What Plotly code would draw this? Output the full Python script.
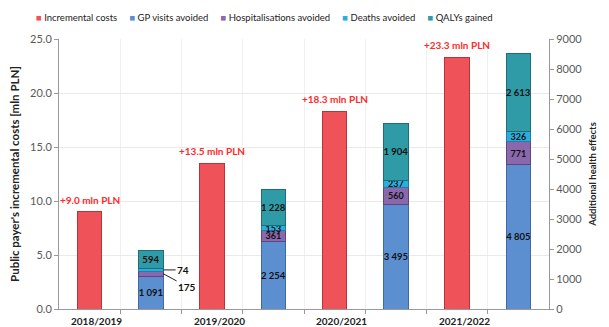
import plotly.graph_objects as go

years = ["2018/2019", "2019/2020", "2020/2021", "2021/2022"]
incremental_costs = [9.0, 13.5, 18.3, 23.3]
gp_visits = [1091, 2254, 3495, 4805]
hospitalisations = [175, 361, 560, 771]
deaths = [74, 153, 237, 326]
qalys = [594, 1228, 1904, 2613]
cost_labels = ["+9.0 mln PLN", "+13.5 mln PLN", "+18.3 mln PLN", "+23.3 mln PLN"]
left_ticks = [0, 5, 10, 15, 20, 25]
right_ticks = list(range(0, 9001, 1000))

FONT = "Lato"
red_x = [2 * i for i in range(len(years))]
stk_x = [2 * i + 1 for i in range(len(years))]


def fmt(v):
    return f"{v:,}".replace(",", " ")


fig = go.Figure()
fig.add_trace(go.Bar(
    x=red_x, y=incremental_costs, name="Incremental costs", width=0.4,
    marker=dict(color="#F0525A", line=dict(color="#B8333A", width=1)),
    yaxis="y", hoverinfo="skip"))

series = [
    ("GP visits avoided", gp_visits, "#5C8FD0", "#3D6BA8", [True, True, True, True], 9.5),
    ("Hospitalisations avoided", hospitalisations, "#8A68AC", "#5E4580", [False, True, True, True], 9),
    ("Deaths avoided", deaths, "#2BAEDD", "#1C7FA6", [False, True, True, True], 9),
    ("QALYs gained", qalys, "#2F9BA6", "#1F6E77", [True, True, True, True], 9.5),
]
for name, vals, col, edge, show, fsize in series:
    txt = [fmt(v) if s else "" for v, s in zip(vals, show)]
    fig.add_trace(go.Bar(
        x=stk_x, y=vals, name=name, width=0.4, yaxis="y2",
        marker=dict(color=col, line=dict(color=edge, width=1)),
        text=txt, textposition="inside", insidetextanchor="middle",
        textangle=0, constraintext="none",
        textfont=dict(family=FONT, size=fsize, color="#111111", weight="bold"),
        hoverinfo="skip"))

annotations = []
for xi, v, lab in zip(red_x, incremental_costs, cost_labels):
    annotations.append(dict(x=xi, y=v, xref="x", yref="y", text=lab, showarrow=False,
                            yanchor="bottom", yshift=4,
                            font=dict(family=FONT, size=10, color="#FF2A2A", weight="bold")))
for xi, lab in zip(red_x, years):
    annotations.append(dict(x=xi + 0.12, y=0, xref="x", yref="paper", text=lab, showarrow=False,
                            yanchor="top", yshift=-4,
                            font=dict(family=FONT, size=10, color="#222222", weight="bold")))
# outside labels for small segments of the first stack
annotations.append(dict(x=1.2, y=gp_visits[0] + hospitalisations[0] + deaths[0] / 2, xref="x", yref="y2",
                        text="74", showarrow=True, arrowhead=0, arrowwidth=1, arrowcolor="#222",
                        ax=20, ay=0, font=dict(family=FONT, size=10, color="#111", weight="bold")))
annotations.append(dict(x=1.2, y=gp_visits[0] + hospitalisations[0] / 2, xref="x", yref="y2",
                        text="175", showarrow=True, arrowhead=0, arrowwidth=1, arrowcolor="#222",
                        ax=24, ay=13, font=dict(family=FONT, size=10, color="#111", weight="bold")))

# custom one-row legend (single text line)
legend_items = [("Incremental costs", "#F0525A"), ("GP visits avoided", "#5C8FD0"),
                ("Hospitalisations avoided", "#8A68AC"), ("Deaths avoided", "#2BAEDD"),
                ("QALYs gained", "#2F9BA6")]
gap = "\u00a0" * 5
legend_text = gap.join(f"<span style='color:{col}'>■</span>\u00a0{lab}" for lab, col in legend_items)
annotations.append(dict(x=0.42, y=1.081, xref="paper", yref="paper", xanchor="center", yanchor="middle",
                        showarrow=False, text=legend_text,
                        font=dict(family=FONT, size=9.5, color="#222")))

fig.update_layout(
    width=609, height=327, barmode="stack",
    margin=dict(l=59, r=54, t=39, b=17),
    paper_bgcolor="white", plot_bgcolor="white",
    font=dict(family=FONT, size=11, color="#595959"),
    showlegend=False,
    xaxis=dict(range=[-0.5, 7.5], tickvals=[0.5 + i for i in range(7)], ticktext=[""] * 7,
               ticks="outside", ticklen=4, tickcolor="#999", showline=True, linecolor="#999",
               showgrid=True, gridcolor="#F0F0F0", zeroline=False),
    yaxis=dict(range=[0, 25], tickvals=left_ticks, ticktext=[f"{t:.1f}" for t in left_ticks],
               ticks="outside", ticklen=4, tickcolor="#999", showline=True, linecolor="#999",
               showgrid=True, gridcolor="#EAEAEA", zeroline=False,
               title=dict(text="Public payer's incremental costs [mln PLN]", standoff=8,
                          font=dict(family=FONT, size=11.5, color="#222", weight="bold"))),
    yaxis2=dict(range=[0, 9000], tickvals=right_ticks, overlaying="y", side="right",
                ticks="outside", ticklen=4, tickcolor="#999", showline=True, linecolor="#999",
                showgrid=False, zeroline=False,
                title=dict(text="Additional health effects", standoff=8,
                           font=dict(family=FONT, size=9.5, color="#222", weight="bold"))),
    annotations=annotations,
)
fig.write_html("out.html")
